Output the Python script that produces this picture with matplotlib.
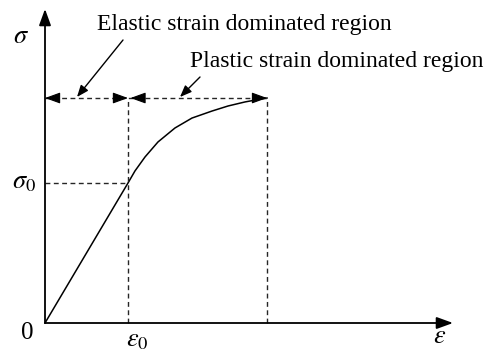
"""Schematic stress-strain curve: elastic vs plastic strain dominated regions."""
import matplotlib
matplotlib.use("Agg")
import matplotlib.pyplot as plt

plt.rcParams["font.family"] = ["Liberation Serif", "DejaVu Serif"]
plt.rcParams["mathtext.fontset"] = "stix"

# ---- data (normalised: eps0 = 1, sigma0 = 1) ----
eps0, sig0 = 1.0, 1.0
eps_end, sig_top = 2.675, 1.607
# elastic (linear) part then plastic hardening part
curve_eps = [0.0, 1.0, 1.084, 1.205, 1.361, 1.566, 1.771, 2.012, 2.205, 2.410, 2.566, 2.675]
curve_sig = [0.0, 1.0, 1.086, 1.186, 1.293, 1.393, 1.464, 1.514, 1.550, 1.579, 1.596, 1.607]

# pixel -> data mapping used only for placing things (origin at px 45,323)
PX0, PY0, SX, SY = 45, 323, 83.0, 140.0
def px(x, y):
    return (x - PX0) / SX, (PY0 - y) / SY

W, H = 492, 349
fig = plt.figure(figsize=(W / 100, H / 100), dpi=100)
ax = fig.add_axes([0, 0, 1, 1])
ax.set_xlim(px(0, 0)[0], px(W, 0)[0])
ax.set_ylim(px(0, H)[1], px(0, 0)[1])
ax.axis("off")

k = "black"
head = dict(arrowstyle="-|>,head_length=0.55,head_width=0.2", color=k, lw=1.3,
            shrinkA=0, shrinkB=0, mutation_scale=18)
# axes with arrowheads
ax.annotate("", xy=px(453, 323), xytext=(0, 0), arrowprops=head)
ax.annotate("", xy=px(45, 9), xytext=(0, 0), arrowprops=head)

# curve
ax.plot(curve_eps, curve_sig, color=k, lw=1.1, solid_joinstyle="round")

# dashed guides
dash = dict(color="0.15", lw=1.0, ls=(0, (3.5, 2.5)))
ax.plot([0, eps0], [sig0, sig0], **dash)
ax.plot([eps0, eps0], [0, sig_top], **dash)
ax.plot([eps_end, eps_end], [0, sig_top], **dash)

# dashed spans for the two regions, with solid arrowheads at both ends
ax.plot([0, eps_end], [sig_top, sig_top], **dash)
tip = dict(arrowstyle="-|>,head_length=0.55,head_width=0.2", color=k, lw=0.8,
           shrinkA=0, shrinkB=0, mutation_scale=17)
d = 0.1
for x_tip, sgn in [(0, -1), (eps0, 1), (eps0 + 0.03, -1), (eps_end, 1)]:
    ax.annotate("", xy=(x_tip, sig_top), xytext=(x_tip - sgn * d, sig_top), arrowprops=tip)

# region labels with pointer arrows
ptr = dict(arrowstyle="-|>,head_length=0.5,head_width=0.2", color=k, lw=1.0,
           shrinkA=0, shrinkB=0, mutation_scale=14)
ax.annotate("", xy=px(77, 97), xytext=px(123, 40), arrowprops=ptr)
ax.annotate("", xy=px(180, 97), xytext=px(200, 77), arrowprops=ptr)
ax.text(*px(97, 30), "Elastic strain dominated region", fontsize=17,
        ha="left", va="baseline")
ax.text(*px(190, 67), "Plastic strain dominated region", fontsize=17,
        ha="left", va="baseline")

# axis symbols
ax.text(*px(21, 37), r"$\sigma$", fontsize=19, ha="center", va="center")
ax.text(*px(36, 183), r"$\sigma_0$", fontsize=19, ha="right", va="center")
ax.text(*px(27, 333), "0", fontsize=18, ha="center", va="center")
ax.text(*px(137, 341), r"$\varepsilon_0$", fontsize=19, ha="center", va="center")
ax.text(*px(440, 337), r"$\varepsilon$", fontsize=19, ha="center", va="center")

fig.savefig("out.png", dpi=100)
